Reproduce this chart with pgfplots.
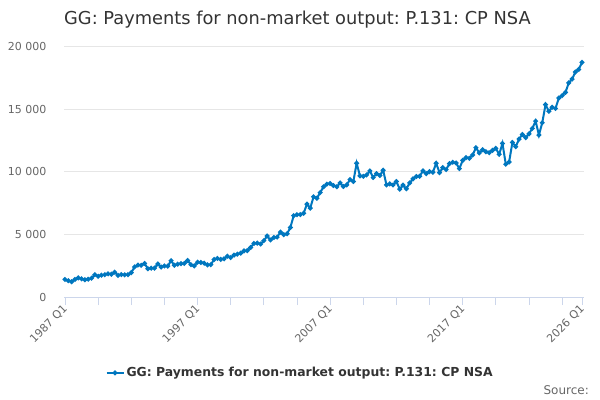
\documentclass[border=0pt]{standalone}
\usepackage{pgfplots}
\pgfplotsset{compat=1.18}
\usepackage{fontspec}
\setmainfont{DejaVu Sans}
\frenchspacing
\definecolor{linecol}{HTML}{0077BF}
\definecolor{gridcol}{HTML}{E6E6E6}
\definecolor{axiscol}{HTML}{CCD6EB}
\definecolor{labcol}{HTML}{666666}
\definecolor{titcol}{HTML}{333333}
\begin{document}
\begin{tikzpicture}
\path[use as bounding box] (0,0) rectangle (600bp,400bp);
\begin{axis}[
  at={(64bp,103bp)}, anchor=south west,
  width=520bp, height=250.5bp, scale only axis,
  xmin=-0.3, xmax=156.6, ymin=0, ymax=20000,
  axis lines*=left,
  y axis line style={draw=none},
  x axis line style={draw=axiscol, line width=0.8bp},
  scaled y ticks=false,
  ytick={0,5000,10000,15000,20000},
  yticklabels={0,5 000,10 000,15 000,20 000},
  ytick style={draw=none},
  xtick={0,40,80,120,156},
  xticklabels={1987 Q1,1997 Q1,2007 Q1,2017 Q1,2026 Q1},
  minor xtick={10,20,30,50,60,70,90,100,110,130,140,150},
  xtick style={draw=axiscol, line width=0.8bp},
  minor x tick style={draw=axiscol, line width=0.8bp},
  tick align=outside, major tick length=8bp, minor tick length=8bp,
  ymajorgrids, grid style={draw=gridcol, line width=0.8bp},
  xmajorgrids=false, xminorgrids=false,
  y tick label style={font=\fontsize{11bp}{13bp}\selectfont, text=labcol, xshift=-6bp},
  x tick label style={font=\fontsize{11bp}{13bp}\selectfont, text=labcol, rotate=45, anchor=east, yshift=-2bp, xshift=2bp},
  legend style={at={(0.454,-0.303)}, anchor=center, draw=none, fill=none,
    font=\bfseries\fontsize{12.4bp}{15bp}\selectfont, text=titcol},
  legend cell align=left,
  clip=false,
]
\addplot[color=linecol, line width=2bp, mark=*, mark size=1.3bp, mark options={solid}] coordinates {
(0,1400)(1,1300)(2,1220)(3,1400)(4,1520)(5,1450)(6,1380)(7,1420)(8,1500)(9,1780)
(10,1650)(11,1740)(12,1780)(13,1850)(14,1820)(15,1980)(16,1720)(17,1790)(18,1770)(19,1780)
(20,1950)(21,2400)(22,2550)(23,2530)(24,2680)(25,2260)(26,2300)(27,2310)(28,2640)(29,2390)
(30,2480)(31,2460)(32,2900)(33,2530)(34,2620)(35,2660)(36,2680)(37,2920)(38,2580)(39,2480)
(40,2780)(41,2760)(42,2700)(43,2560)(44,2580)(45,3000)(46,3080)(47,3000)(48,3050)(49,3260)
(50,3150)(51,3350)(52,3420)(53,3500)(54,3680)(55,3700)(56,3950)(57,4280)(58,4300)(59,4230)
(60,4500)(61,4870)(62,4550)(63,4750)(64,4780)(65,5180)(66,4980)(67,5050)(68,5550)(69,6490)
(70,6570)(71,6580)(72,6680)(73,7420)(74,7100)(75,8000)(76,7890)(77,8340)(78,8800)(79,9010)
(80,9060)(81,8900)(82,8800)(83,9110)(84,8820)(85,8950)(86,9380)(87,9220)(88,10680)(89,9670)
(90,9640)(91,9750)(92,10070)(93,9540)(94,9850)(95,9700)(96,10120)(97,8950)(98,9030)(99,8950)
(100,9220)(101,8610)(102,8930)(103,8640)(104,9110)(105,9430)(106,9620)(107,9640)(108,10070)(109,9850)
(110,10010)(111,9960)(112,10680)(113,9930)(114,10330)(115,10170)(116,10650)(117,10760)(118,10700)(119,10250)
(120,10910)(121,11130)(122,11070)(123,11340)(124,11920)(125,11500)(126,11760)(127,11600)(128,11520)(129,11710)
(130,11870)(131,11390)(132,12260)(133,10600)(134,10780)(135,12340)(136,12000)(137,12610)(138,12980)(139,12720)
(140,13030)(141,13460)(142,14040)(143,12930)(144,13910)(145,15360)(146,14830)(147,15150)(148,15050)(149,15890)
(150,16080)(151,16340)(152,17090)(153,17400)(154,17960)(155,18170)(156,18730)
};
\addlegendentry{GG: Payments for non-market output: P.131: CP NSA}
\end{axis}
\node[anchor=base west, text=titcol, font=\fontsize{17.8bp}{20bp}\selectfont, inner sep=0pt] at (64bp,375bp) {GG: Payments for non-market output: P.131: CP NSA};
\node[anchor=base east, text=labcol, font=\fontsize{12bp}{14bp}\selectfont, inner sep=0pt] at (589bp,6bp) {Source:};
\end{tikzpicture}
\end{document}
